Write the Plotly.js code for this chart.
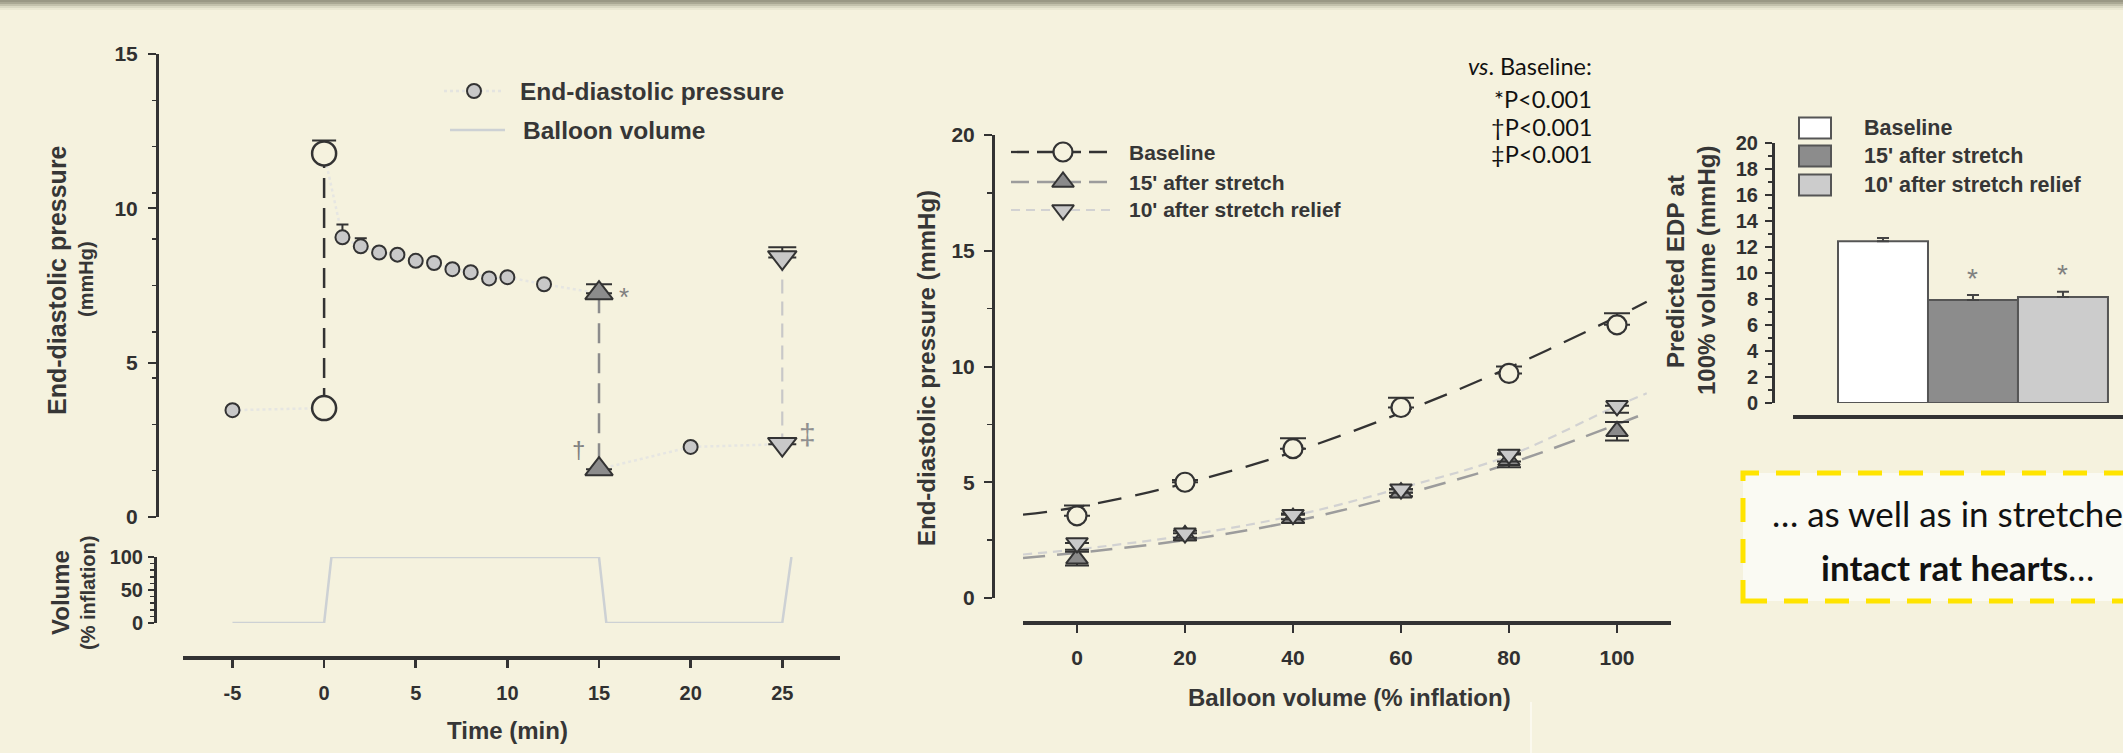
<!DOCTYPE html>
<html>
<head>
<meta charset="utf-8">
<script src="https://cdn.plot.ly/plotly-3.0.1.min.js"></script>
<style>
html,body{margin:0;padding:0;background:#f5f2de;overflow:hidden;}
#chart{width:2123px;height:753px;}
</style>
</head>
<body>
<div id="chart"></div>
<script>
// ---------------- DATA ----------------
// Left panel: time course
const tSmall = [-5, 1, 2, 3, 4, 5, 6, 7, 8, 9, 10, 12, 20];
const edpSmall = [3.46, 9.06, 8.77, 8.57, 8.5, 8.3, 8.23, 8.03, 7.93, 7.73, 7.77, 7.54, 2.27];
const edpSmallErr = [0, 0.42, 0.26, 0.08, 0.08, 0.08, 0.08, 0.12, 0.08, 0.06, 0.06, 0.08, 0];
const tStretchOn = [0, 0];
const edpStretchOn = [3.53, 11.78];
const edpStretchOnErr = [0, 0.42];
const tStretch15 = [15, 15];
const edpStretch15 = [7.25, 1.55];
const edpStretch15Err = [0.29, 0];
const tRelief25 = [25, 25];
const edpRelief25 = [8.41, 2.36];
const edpRelief25Err = [0.33, 0];
const timeVol = [-5, 0, 0.4, 15, 15.4, 25, 25.5];
const balloonVol = [0, 0, 100, 100, 0, 0, 100];
const timeTicks = [-5, 0, 5, 10, 15, 20, 25];

// Middle panel: pressure-volume
const inflation = [0, 20, 40, 60, 80, 100];
const edpBaseline = [3.55, 5.0, 6.45, 8.23, 9.7, 11.8];
const edpBaselineErr = [0.45, 0.1, 0.45, 0.42, 0.3, 0.5];
const edpAfterStretch = [1.7, 2.7, 3.45, 4.55, 5.95, 7.2];
const edpAfterStretchErr = [0.3, 0.2, 0.2, 0.15, 0.3, 0.4];
const edpAfterRelief = [2.38, 2.8, 3.6, 4.7, 6.2, 8.3];
const edpAfterReliefErr = [0.3, 0.2, 0.2, 0.15, 0.3, 0.3];
const fitX = [-10, 0, 20, 40, 60, 80, 100, 105.5];
const fitBaseline = [3.6, 3.92, 4.95, 6.3, 8.0, 9.95, 12.15, 12.8];
const fitAfterStretch = [1.73, 1.95, 2.5, 3.3, 4.45, 5.8, 7.5, 8.0];
const fitAfterRelief = [1.88, 2.1, 2.7, 3.55, 4.75, 6.15, 8.3, 8.84];

// Right panel: bars
const barGroups = ["Baseline", "15' after stretch", "10' after stretch relief"];
const predEDP = [12.45, 7.92, 8.15];
const predEDPErr = [0.25, 0.38, 0.4];
const barSignif = ["", "*", "*"];

const statLines = ["<i>vs</i>. Baseline:", "*P<0.001", "\u2020P<0.001", "\u2021P<0.001"];

// ---------------- LAYOUT HELPERS ----------------
const W = 2123, H = 753;
const BG = '#f5f2de';
const fx = p => p / W;
const fy = p => 1 - p / H;
const F = 'Liberation Sans, Arial, sans-serif';
const TXT = '#363636';
const AX = '#333333';

// ---------------- TRACES ----------------
const traces = [];

// dotted connecting line (left)
const dotX = [tSmall[0], tStretchOn[0], null, tStretchOn[1]].concat(tSmall.slice(1, 12), [tStretch15[0], null, tStretch15[1], tSmall[12], tRelief25[1]]);
const dotY = [edpSmall[0], edpStretchOn[0], null, edpStretchOn[1]].concat(edpSmall.slice(1, 12), [edpStretch15[0], null, edpStretch15[1], edpSmall[12], edpRelief25[1]]);
traces.push({x: dotX, y: dotY, xaxis: 'x', yaxis: 'y', mode: 'lines', line: {color: '#e6e6e2', width: 2.5, dash: 'dot'}, hoverinfo: 'skip', showlegend: false, cliponaxis: false});

// vertical dashed transitions
traces.push({x: tStretchOn, y: edpStretchOn, xaxis: 'x', yaxis: 'y', mode: 'lines', line: {color: '#333', width: 2.5, dash: '20px,10px'}, showlegend: false, cliponaxis: false});
traces.push({x: tStretch15, y: edpStretch15, xaxis: 'x', yaxis: 'y', mode: 'lines', line: {color: '#8c8c8c', width: 2.5, dash: '20px,10px'}, showlegend: false, cliponaxis: false});
traces.push({x: tRelief25, y: edpRelief25, xaxis: 'x', yaxis: 'y', mode: 'lines', line: {color: '#c8c8c8', width: 2.2, dash: '14px,8px'}, showlegend: false, cliponaxis: false});

// small circles
traces.push({x: tSmall, y: edpSmall, xaxis: 'x', yaxis: 'y', mode: 'markers',
  marker: {symbol: 'circle', size: 14, color: '#c8c8c8', line: {color: '#333', width: 2}},
  error_y: {type: 'data', symmetric: false, array: edpSmallErr, arrayminus: edpSmallErr.map(() => 0), color: '#333', thickness: 2, width: 6},
  showlegend: false, cliponaxis: false});
// big open circles at stretch onset
traces.push({x: tStretchOn, y: edpStretchOn, xaxis: 'x', yaxis: 'y', mode: 'markers',
  marker: {symbol: 'circle', size: 24, color: BG, line: {color: '#333', width: 2.5}},
  error_y: {type: 'data', symmetric: false, array: edpStretchOnErr, arrayminus: [0, 0], color: '#333', thickness: 2, width: 12},
  showlegend: false, cliponaxis: false});
// triangles up at 15 min
traces.push({x: tStretch15, y: edpStretch15, xaxis: 'x', yaxis: 'y', mode: 'markers',
  marker: {symbol: 'triangle-up', size: 24, color: '#8c8c8c', line: {color: '#333', width: 2}},
  error_y: {type: 'data', symmetric: false, array: edpStretch15Err, arrayminus: [0, 0], color: '#333', thickness: 2, width: 13},
  showlegend: false, cliponaxis: false});
// triangles down at 25 min
traces.push({x: tRelief25, y: edpRelief25, xaxis: 'x', yaxis: 'y', mode: 'markers',
  marker: {symbol: 'triangle-down', size: 25, color: '#c8c8c8', line: {color: '#333', width: 2}},
  error_y: {type: 'data', symmetric: false, array: edpRelief25Err, arrayminus: [0, 0], color: '#333', thickness: 2, width: 14},
  showlegend: false, cliponaxis: false});

// balloon volume
traces.push({x: timeVol, y: balloonVol, xaxis: 'x2', yaxis: 'y2', mode: 'lines', line: {color: '#cdd1d4', width: 2.5}, showlegend: false, cliponaxis: false});

// middle fits
traces.push({x: fitX, y: fitAfterRelief, xaxis: 'x3', yaxis: 'y3', mode: 'lines', line: {color: '#d2d2d2', width: 2.2, dash: '9px,6px', shape: 'spline'}, showlegend: false, cliponaxis: false});
traces.push({x: fitX, y: fitAfterStretch, xaxis: 'x3', yaxis: 'y3', mode: 'lines', line: {color: '#9c9c9c', width: 2.5, dash: '22px,12px', shape: 'spline'}, showlegend: false, cliponaxis: false});
traces.push({x: fitX, y: fitBaseline, xaxis: 'x3', yaxis: 'y3', mode: 'lines', line: {color: '#333', width: 2.3, dash: '24px,14px', shape: 'spline'}, showlegend: false, cliponaxis: false});
// middle points
traces.push({x: inflation, y: edpAfterStretch, xaxis: 'x3', yaxis: 'y3', mode: 'markers',
  marker: {symbol: 'triangle-up', size: 19, color: '#8a8a8a', line: {color: '#333', width: 2}},
  error_y: {type: 'data', array: edpAfterStretchErr, color: '#333', thickness: 2, width: 12},
  showlegend: false, cliponaxis: false});
traces.push({x: inflation, y: edpAfterRelief, xaxis: 'x3', yaxis: 'y3', mode: 'markers',
  marker: {symbol: 'triangle-down', size: 19, color: '#c9c9c9', line: {color: '#333', width: 2}},
  error_y: {type: 'data', symmetric: false, array: edpAfterReliefErr.map(() => 0), arrayminus: edpAfterReliefErr, color: '#333', thickness: 2, width: 12},
  showlegend: false, cliponaxis: false});
traces.push({x: inflation, y: edpBaseline, xaxis: 'x3', yaxis: 'y3', mode: 'markers',
  marker: {symbol: 'circle', size: 19, color: BG, line: {color: '#333', width: 2.2}},
  error_y: {type: 'data', symmetric: false, array: edpBaselineErr, arrayminus: edpBaselineErr.map(() => 0), color: '#333', thickness: 2, width: 13},
  showlegend: false, cliponaxis: false});

// bars
traces.push({type: 'bar', x: [0, 1, 2], y: predEDP, xaxis: 'x4', yaxis: 'y4', width: 1,
  marker: {color: ['#ffffff', '#8c8c8c', '#cccccc'], line: {color: '#555', width: 2}},
  error_y: {type: 'data', symmetric: false, array: predEDPErr, arrayminus: [0, 0, 0], color: '#444', thickness: 2, width: 6},
  text: barGroups, textposition: 'none', showlegend: false, hoverinfo: 'text+y'});

// legend glyphs (overlay pixel frame)
const LG = {
  leftEdp: {x0: 444, x1: 502, xm: 474, y: 91},
  leftVol: {x0: 450, x1: 505, y: 130},
  mid: {x0: 1011, x1: 1110, xm: 1063, ys: [152, 182, 210]},
};
traces.push({x: [LG.leftEdp.x0, LG.leftEdp.x1], y: [LG.leftEdp.y, LG.leftEdp.y], xaxis: 'x5', yaxis: 'y5', mode: 'lines', line: {color: '#e4e4e0', width: 2.5, dash: 'dot'}, showlegend: false, hoverinfo: 'skip'});
traces.push({x: [LG.leftEdp.xm], y: [LG.leftEdp.y], xaxis: 'x5', yaxis: 'y5', mode: 'markers', marker: {symbol: 'circle', size: 14, color: '#c8c8c8', line: {color: '#333', width: 2}}, showlegend: false, hoverinfo: 'skip'});
traces.push({x: [LG.leftVol.x0, LG.leftVol.x1], y: [LG.leftVol.y, LG.leftVol.y], xaxis: 'x5', yaxis: 'y5', mode: 'lines', line: {color: '#cdd1d4', width: 2.5}, showlegend: false, hoverinfo: 'skip'});
const midStyles = [
  {line: {color: '#333', width: 2.3, dash: '18px,8px'}, marker: {symbol: 'circle', size: 19, color: BG, line: {color: '#333', width: 2.2}}},
  {line: {color: '#9c9c9c', width: 2.5, dash: '18px,8px'}, marker: {symbol: 'triangle-up', size: 19, color: '#8a8a8a', line: {color: '#333', width: 2}}},
  {line: {color: '#d2d2d2', width: 2.2, dash: '9px,6px'}, marker: {symbol: 'triangle-down', size: 19, color: '#c9c9c9', line: {color: '#333', width: 2}}},
];
midStyles.forEach((s, i) => {
  const y = LG.mid.ys[i];
  traces.push({x: [LG.mid.x0, LG.mid.x1], y: [y, y], xaxis: 'x5', yaxis: 'y5', mode: 'lines', line: s.line, showlegend: false, hoverinfo: 'skip'});
  traces.push({x: [LG.mid.xm], y: [y], xaxis: 'x5', yaxis: 'y5', mode: 'markers', marker: s.marker, showlegend: false, hoverinfo: 'skip'});
});

// ---------------- ANNOTATIONS ----------------
const ann = [];
function txt(x, y, text, size, opts) {
  ann.push(Object.assign({xref: 'paper', yref: 'paper', x: fx(x), y: fy(y), text: text, showarrow: false,
    font: {family: F, size: size, color: TXT}, xanchor: 'center', yanchor: 'middle'}, opts || {}));
}
// left panel
txt(57, 280, '<b>End-diastolic pressure</b>', 25, {textangle: -90});
txt(86, 279, '<b>(mmHg)</b>', 20, {textangle: -90});
txt(60, 593, '<b>Volume</b>', 24, {textangle: -90});
txt(88, 593, '<b>(% inflation)</b>', 20, {textangle: -90});
txt(507, 730, '<b>Time (min)</b>', 24);
txt(518, 91, '<b>End-diastolic pressure</b>', 24.5, {xanchor: 'left'});
txt(521, 130, '<b>Balloon volume</b>', 24.5, {xanchor: 'left'});
// significance marks on left panel (data-anchored)
ann.push({xref: 'x', yref: 'y', x: tStretch15[0] + 1.35, y: edpStretch15[0] - 0.12, text: '*', showarrow: false, font: {family: F, size: 26, color: '#808080'}, yanchor: 'middle'});
ann.push({xref: 'x', yref: 'y', x: tStretch15[1] - 1.1, y: edpStretch15[1] + 0.65, text: '\u2020', showarrow: false, font: {family: F, size: 24, color: '#808080'}, yanchor: 'middle'});
ann.push({xref: 'x', yref: 'y', x: tRelief25[1] + 1.35, y: edpRelief25[1] + 0.3, text: '\u2021', showarrow: false, font: {family: F, size: 30, color: '#909090'}, yanchor: 'middle'});

// middle panel
txt(926, 368, '<b>End-diastolic pressure (mmHg)</b>', 24, {textangle: -90});
txt(1349, 697, '<b>Balloon volume (% inflation)</b>', 24);
const midLabels = ['Baseline', "15' after stretch", "10' after stretch relief"];
midLabels.forEach((l, i) => txt(1127, LG.mid.ys[i], '<b>' + l + '</b>', 21, {xanchor: 'left'}));
const statY = [66, 99, 127, 154];
statLines.forEach((s, i) => txt(1594, statY[i], s, 23.5, {xanchor: 'right', font: {family: 'Lato, Open Sans, sans-serif', size: 23.5, color: '#111'}}));

// bar panel
txt(1675, 272, '<b>Predicted EDP at</b>', 24, {textangle: -90});
txt(1706, 271, '<b>100% volume (mmHg)</b>', 24, {textangle: -90});
const barLegY = [128, 156, 185];
barGroups.forEach((g, i) => txt(1862, barLegY[i], '<b>' + g + '</b>', 21.5, {xanchor: 'left'}));
barSignif.forEach((s, i) => {
  if (s) ann.push({xref: 'x4', yref: 'y4', x: i, y: predEDP[i] + predEDPErr[i] + 1.3, text: s, showarrow: false, font: {family: F, size: 28, color: '#808080'}, yanchor: 'middle'});
});

// callout
ann.push({xref: 'paper', yref: 'paper', x: fx(1957), y: fy(513), text: '\u2026 as well as in stretched', showarrow: false, font: {family: 'Lato, sans-serif', size: 35, color: '#111'}, xanchor: 'center', yanchor: 'middle'});
ann.push({xref: 'paper', yref: 'paper', x: fx(1957), y: fy(567), text: '<b>intact rat hearts</b>\u2026', showarrow: false, font: {family: 'Lato, sans-serif', size: 35, color: '#111'}, xanchor: 'center', yanchor: 'middle'});

// ---------------- SHAPES ----------------
const shapes = [];
// top shadow band
[['#9a9885', 0, 2], ['#aaa894', 2, 4], ['#c3c1ac', 4, 6], ['#dbd9c4', 6, 8], ['#ebe8d3', 8, 10]].forEach(b => {
  shapes.push({type: 'rect', xref: 'paper', yref: 'paper', x0: 0, x1: 1, y0: fy(b[2]), y1: fy(b[1]), fillcolor: b[0], line: {width: 0}, layer: 'below'});
});
// faint seam line
shapes.push({type: 'line', xref: 'paper', yref: 'paper', x0: fx(1531), x1: fx(1531), y0: fy(702), y1: fy(753), line: {color: '#fbf9ee', width: 2}, layer: 'below'});
// callout box
shapes.push({type: 'rect', xref: 'paper', yref: 'paper', x0: fx(1743), x1: fx(2220), y0: fy(601), y1: fy(473), fillcolor: '#fafaf3', line: {color: '#ffe400', width: 5, dash: '24px,17px'}, layer: 'below'});
// bar legend boxes
const barColors = ['#ffffff', '#8c8c8c', '#cccccc'];
barLegY.forEach((y, i) => shapes.push({type: 'rect', xref: 'paper', yref: 'paper', x0: fx(1799), x1: fx(1831), y0: fy(y + 10.5), y1: fy(y - 10.5), fillcolor: barColors[i], line: {color: '#555', width: 2}}));

// ---------------- AXES ----------------
const tickFont = s => ({family: F, size: s, color: '#303030', weight: 'bold'});
const leftDom = [fx(183), fx(840)];
const tRange = [-7.7, 28.15];

const layout = {
  width: W, height: H, margin: {l: 0, r: 0, t: 0, b: 0},
  paper_bgcolor: BG, plot_bgcolor: 'rgba(0,0,0,0)',
  showlegend: false, hovermode: false,
  xaxis: {domain: leftDom, range: tRange, anchor: 'y', visible: false, fixedrange: true},
  yaxis: {domain: [fy(517), fy(54)], range: [0, 15], anchor: 'free', position: fx(157),
    showline: true, linecolor: AX, linewidth: 2.5, ticks: 'outside', ticklen: 8, tickwidth: 2, tickcolor: AX,
    dtick: 5, tick0: 0, showgrid: false, zeroline: false, tickfont: tickFont(21), ticklabelstandoff: 6,
    minor: {dtick: 1.5, tick0: 0, ticks: 'outside', ticklen: 4, tickwidth: 1.5, tickcolor: AX, showgrid: false}},
  xaxis2: {domain: leftDom, range: tRange, anchor: 'free', position: fy(657),
    showline: true, linecolor: AX, linewidth: 3.5, ticks: 'outside', ticklen: 8, tickwidth: 2.5, tickcolor: AX,
    tickmode: 'array', tickvals: timeTicks, ticktext: timeTicks.map(String),
    showgrid: false, zeroline: false, tickfont: tickFont(20), ticklabelstandoff: 8},
  yaxis2: {domain: [fy(623), fy(557)], range: [0, 100], anchor: 'free', position: fx(155),
    showline: true, linecolor: AX, linewidth: 2.5, ticks: 'outside', ticklen: 6, tickwidth: 2, tickcolor: AX,
    dtick: 50, showgrid: false, zeroline: false, tickfont: tickFont(20), ticklabelstandoff: 1,
    minor: {dtick: 10, ticks: 'outside', ticklen: 4, tickwidth: 1.5, tickcolor: AX, showgrid: false}},
  xaxis3: {domain: [fx(1023), fx(1671)], range: [-10, 110], anchor: 'free', position: fy(622),
    showline: true, linecolor: AX, linewidth: 3.5, ticks: 'outside', ticklen: 8, tickwidth: 2.5, tickcolor: AX,
    tickmode: 'array', tickvals: inflation, ticktext: inflation.map(String),
    showgrid: false, zeroline: false, tickfont: tickFont(21), ticklabelstandoff: 7},
  yaxis3: {domain: [fy(598), fy(135)], range: [0, 20], anchor: 'free', position: fx(993),
    showline: true, linecolor: AX, linewidth: 2.5, ticks: 'outside', ticklen: 8, tickwidth: 2, tickcolor: AX,
    dtick: 5, showgrid: false, zeroline: false, tickfont: tickFont(21), ticklabelstandoff: 5,
    minor: {dtick: 2.5, ticks: 'outside', ticklen: 5, tickwidth: 1.5, tickcolor: AX, showgrid: false}},
  xaxis4: {domain: [fx(1793), 1], range: [-1, 2.667], anchor: 'free', position: fy(416),
    showline: true, linecolor: AX, linewidth: 3.5, ticks: '', showticklabels: false, showgrid: false, zeroline: false},
  yaxis4: {domain: [fy(403), fy(143)], range: [0, 20], anchor: 'free', position: fx(1773),
    showline: true, linecolor: AX, linewidth: 2.5, ticks: 'outside', ticklen: 7, tickwidth: 2, tickcolor: AX,
    dtick: 2, showgrid: false, zeroline: false, tickfont: tickFont(20), ticklabelstandoff: 3,
    minor: {dtick: 1, ticks: 'outside', ticklen: 4, tickwidth: 1.5, tickcolor: AX, showgrid: false}},
  xaxis5: {domain: [0, 1], range: [0, W], anchor: 'y5', visible: false, fixedrange: true},
  yaxis5: {domain: [0, 1], range: [H, 0], anchor: 'x5', visible: false, fixedrange: true},
  bargap: 0,
  annotations: ann,
  shapes: shapes,
};

Plotly.newPlot('chart', traces, layout, {staticPlot: true, displayModeBar: false});
</script>
</body>
</html>
